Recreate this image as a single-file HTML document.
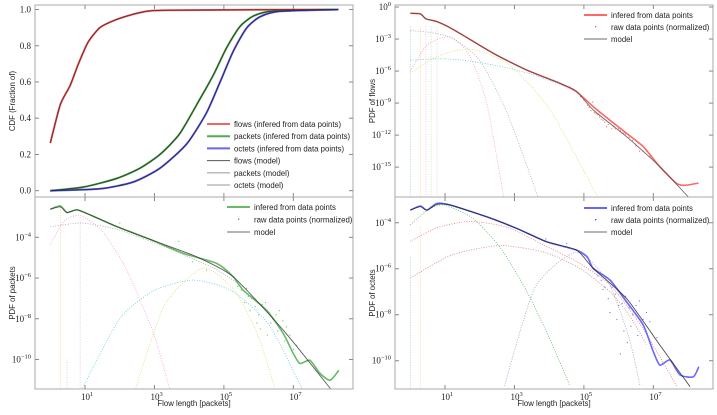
<!DOCTYPE html>
<html><head><meta charset="utf-8"><style>
body{margin:0;background:#fff;width:717px;height:415px;overflow:hidden}
svg{display:block}
text{font-family:"Liberation Serif",serif;font-size:9px;fill:#222}
.lab{font-family:"Liberation Sans",sans-serif;font-size:7.8px;fill:#222}
</style></head><body>
<svg id="fig" width="717" height="415" viewBox="0 0 717 415" xmlns="http://www.w3.org/2000/svg"></svg>
<script>
// ---- data (log10 x, value) ----
const cdfFlowsX=[0,0.29,0.57,0.81,1.09,1.43,1.91,2.58,3.35,8.3];
const cdfFlowsY=[0.263,0.477,0.58,0.70,0.82,0.90,0.945,0.983,0.996,1.0];
const cdfPacketsX=[0,0.96,1.91,2.58,3.16,3.73,4.31,4.7,5.08,5.46,5.85,6.42,8.3];
const cdfPacketsY=[0,0.02,0.067,0.124,0.2,0.315,0.506,0.64,0.79,0.906,0.964,0.992,1.0];
const cdfOctetsX=[0,1.43,2.39,3.16,3.93,4.5,4.89,5.27,5.65,6.04,6.62,8.3];
const cdfOctetsY=[0,0.01,0.048,0.124,0.258,0.43,0.60,0.77,0.897,0.96,0.99,1.0];
// PDF flows (log10 y)
const flowsInfX=[0,0.29,0.45,0.77,1.05,1.43,2.39,3.35,4.31,4.79,5.27,5.75,6.23,6.71,7.19,7.67,7.9,8.3];
const flowsInfY=[-0.59,-0.64,-1.1,-1.37,-1.78,-2.47,-4.34,-5.9,-7.15,-7.94,-9.34,-10.6,-11.84,-13.09,-14.97,-16.53,-16.7,-16.5];
const flowsModX=[0,0.29,0.45,0.77,1.05,1.43,2.39,3.35,4.31,4.79,5.27,6.23,7.19,8.0];
const flowsModY=[-0.59,-0.64,-1.1,-1.37,-1.78,-2.47,-4.34,-5.9,-7.15,-7.9,-9.65,-12.15,-14.97,-17.77];
const flowsCompPinkX=[0,0.5,1.15,1.7,2.2,2.7];const flowsCompPinkY=[-6.0,-3.5,-2.81,-4.5,-9.0,-18.0];
const flowsCompGrayX=[0,0.6,1.2,2.0,2.8,3.7];const flowsCompGrayY=[-2.2,-2.4,-2.9,-5.0,-10.0,-18.0];
const flowsCompYelX=[0,0.8,1.72,2.8,4.0,5.43];const flowsCompYelY=[-6.2,-4.6,-3.94,-5.3,-9.5,-18.0];
const flowsCompCyanX=[0,0.7,1.43,2.5,3.5,4.5];const flowsCompCyanY=[-5.0,-4.85,-4.94,-5.5,-6.3,-7.5];
const flowsRawX=[4.5,4.6,4.7,4.8,4.9,5.0,5.1,5.15,5.2,5.3,5.35,5.4,5.5,5.55,5.6,5.7,5.8,5.9,6.0,6.05,6.1,6.2,6.3,6.4,6.5,6.6,6.7,6.8,6.9,5.25,5.45,5.65,5.85,6.15];
const flowsRawY=[-7.4,-7.5,-7.7,-8.0,-8.4,-8.7,-9.2,-9.4,-9.7,-9.9,-10.0,-10.1,-10.5,-10.6,-10.8,-11.0,-11.4,-11.4,-11.4,-11.6,-11.8,-11.9,-12.2,-12.5,-13.0,-13.5,-13.5,-13.5,-14.0,-8.9,-10.3,-11.2,-11.2,-11.8];
// PDF packets
const pktInfX=[0,0.29,0.48,0.77,1.15,1.91,2.87,3.83,4.79,5.27,5.56,6.23,6.71,7.0,7.19,7.48,7.77,8.06,8.31];
const pktInfY=[-2.62,-2.46,-2.78,-2.65,-2.9,-3.47,-4.1,-4.79,-5.28,-5.94,-6.6,-7.58,-8.73,-9.71,-10.2,-10.04,-10.69,-11.02,-10.53];
const pktModX=[0,0.29,0.48,0.77,1.15,1.91,2.87,3.83,4.31,5.27,6.71,8.1];
const pktModY=[-2.62,-2.5,-2.78,-2.65,-2.9,-3.47,-4.1,-4.7,-5.03,-5.94,-8.56,-11.5];
const pktCompPinkX=[0,0.4,0.86,1.5,2.2,2.97,3.45];const pktCompPinkY=[-4.36,-3.2,-2.93,-3.7,-5.6,-8.7,-11.5];
const pktCompCyanX=[0.9,2.0,3.0,4.12,5.2,6.3,7.27];const pktCompCyanY=[-11.5,-8.0,-6.6,-6.1,-6.6,-8.3,-11.5];
const pktCompYelX=[2.44,3.3,4.41,5.3,6.0,6.48];const pktCompYelY=[-11.5,-7.3,-5.5,-6.6,-8.9,-11.5];
const pktCompGrayX=[0,0.9,1.9,2.9,3.9,4.8,5.7];const pktCompGrayY=[-3.48,-3.3,-3.6,-4.2,-4.9,-5.6,-6.6];
const pktRawX=[5.4,5.5,5.6,5.7,5.8,5.9,6.0,6.1,6.2,6.3,6.4,6.5,6.6,6.7,6.8,6.9,5.65,5.75,5.95,6.05,6.25,6.35,6.55,6.75,7.0,7.1,3.7,4.1,4.5,2.0];
const pktRawY=[-6.4,-6.6,-7.2,-6.9,-7.0,-7.4,-7.8,-7.3,-7.2,-7.7,-8.0,-7.8,-7.6,-8.1,-8.4,-8.8,-6.5,-7.6,-8.2,-8.5,-8.8,-8.2,-8.6,-9.1,-9.5,-9.3,-4.2,-5.2,-5.6,-3.3];
// PDF octets
const octInfX=[0,0.29,0.48,0.77,1.15,2.2,3.07,3.93,4.79,5.1,5.27,5.75,6.23,6.71,7.0,7.19,7.48,7.77,8.15,8.31];
const octInfY=[-3.45,-3.27,-3.45,-3.16,-3.23,-3.74,-4.25,-4.83,-5.19,-5.5,-5.99,-6.49,-7.44,-8.45,-9.61,-10.19,-9.97,-10.62,-10.7,-10.26];
const octModX=[0,0.29,0.48,0.77,1.15,2.2,3.07,3.93,4.79,5.27,6.23,7.19,8.06];
const octModY=[-3.45,-3.3,-3.45,-3.2,-3.23,-3.74,-4.25,-4.83,-5.19,-5.99,-7.3,-9.32,-11.13];
const octCompGreenX=[0,0.5,0.96,1.8,2.6,3.36,4.0,4.6];const octCompGreenY=[-4.09,-3.45,-3.23,-3.8,-5.1,-7.0,-9.0,-11.1];
const octCompRed1X=[0,0.8,1.73,2.8,3.83,4.8,5.75,6.7,7.67];const octCompRed1Y=[-4.81,-4.2,-3.94,-4.2,-4.96,-5.7,-6.7,-8.6,-11.1];
const octCompRed2X=[0,1.2,2.59,3.9,4.9,5.75,6.3,6.8];const octCompRed2Y=[-6.4,-5.4,-4.99,-5.3,-6.0,-7.0,-8.0,-9.3];
const octCompPurpX=[2.71,3.6,4.79,5.7,6.3,6.62];const octCompPurpY=[-11.1,-6.8,-5.28,-6.6,-9.0,-11.1];
const octRawX=[5.3,5.4,5.5,5.6,5.7,5.8,5.9,6.0,6.1,6.2,6.3,6.4,6.5,6.6,6.7,6.8,6.9,5.55,5.75,5.95,6.15,6.35,6.55,6.05,6.25,7.1,4.5,3.9];
const octRawY=[-6.0,-6.3,-6.5,-6.8,-7.3,-6.8,-7.1,-7.6,-7.5,-7.2,-7.7,-8.0,-7.6,-7.4,-8.2,-7.9,-8.3,-6.9,-7.9,-8.2,-8.7,-8.5,-8.9,-9.7,-9.2,-9.0,-4.9,-4.7];

const tickDecades=[1,3,5,7];
const cdfTicks=[0,0.2,0.4,0.6,0.8,1.0];
const flowsTicks=[0,-3,-6,-9,-12,-15];
const pktTicks=[-4,-6,-8,-10];
const octTicks=[-4,-6,-8,-10];

const NS="http://www.w3.org/2000/svg";
const fig=document.getElementById('fig');
function el(tag,attrs,parent){const e=document.createElementNS(NS,tag);for(const k in attrs)e.setAttribute(k,attrs[k]);(parent||fig).appendChild(e);return e;}
function makePanel(x0,x1,y0,y1,ymin,ymax,name){
  const g=el('g',{});
  
  
  const cid='clip-'+name;
  const cp=el('clipPath',{id:cid},g);el('rect',{x:x0,y:y0,width:x1-x0,height:y1-y0},cp);
  const sx=v=>x0+15.3+(v)*34.72;
  const sy=v=>y1-(v-ymin)/(ymax-ymin)*(y1-y0);
  const plot=el('g',{'clip-path':'url(#'+cid+')'},g);
  return {g,plot,sx,sy,x0,x1,y0,y1};
}
function smoothPath(P,xs,ys){
  const pts=xs.map((x,i)=>[P.sx(x),P.sy(ys[i])]);
  let d='M'+pts[0][0].toFixed(1)+','+pts[0][1].toFixed(1);
  for(let i=0;i<pts.length-1;i++){
    const p0=pts[Math.max(0,i-1)],p1=pts[i],p2=pts[i+1],p3=pts[Math.min(pts.length-1,i+2)];
    const c1=[p1[0]+(p2[0]-p0[0])/9,p1[1]+(p2[1]-p0[1])/9];
    const c2=[p2[0]-(p3[0]-p1[0])/9,p2[1]-(p3[1]-p1[1])/9];
    d+=' C'+c1.map(v=>v.toFixed(1))+' '+c2.map(v=>v.toFixed(1))+' '+p2.map(v=>v.toFixed(1));
  }
  return d;
}
function line(P,xs,ys,style,name){
  const p=el('path',Object.assign({d:smoothPath(P,xs,ys),fill:'none'},style),P.plot);
  
  
}
function dots(P,xs,ys,color,name){
  const g=el('g',{},P.plot);
  
  
  xs.forEach((x,i)=>el('rect',{x:P.sx(x)-0.5,y:P.sy(ys[i])-0.5,width:1.1,height:1.1,fill:color,'fill-opacity':0.7},g));
}
function frame(P,yticks,ylabFn,xlabels){
  el('rect',{x:P.x0,y:P.y0,width:P.x1-P.x0,height:P.y1-P.y0,fill:'none',stroke:'#aaa','stroke-width':1},P.g);
  yticks.forEach(t=>{const y=P.sy(t);
    el('line',{x1:P.x0,x2:P.x0+4,y1:y,y2:y,stroke:'#888'},P.g);
    el('line',{x1:P.x1-4,x2:P.x1,y1:y,y2:y,stroke:'#888'},P.g);
    const tx=el('text',{x:P.x0-4,y:y+3,'text-anchor':'end'},P.g);
    
    
    ylabFn(tx,t);
  });
  tickDecades.forEach(d=>{const x=P.sx(d);
    el('line',{x1:x,x2:x,y1:P.y1,y2:P.y1-4,stroke:'#888'},P.g);
    el('line',{x1:x,x2:x,y1:P.y0,y2:P.y0+4,stroke:'#888'},P.g);
    if(xlabels){const tx=el('text',{x:x-4,y:P.y1+11},P.g);
      
      
      tx.textContent='10';const s=el('tspan',{dy:-4,'font-size':'6.5'},tx);s.textContent=d;}
  });
}
function powLab(tx,t){tx.textContent='10';const s=el('tspan',{dy:-4,'font-size':'6.5'},tx);s.textContent=(t<0?'\u2212'+(-t):t);}
function ylabel(x,y,txt,name){const t=el('text',{x:x,y:y,class:'lab','text-anchor':'middle',transform:'rotate(-90 '+x+' '+y+')'});t.textContent=txt;
  }
function xlabel(x,y,txt){const t=el('text',{x:x,y:y,class:'lab','text-anchor':'middle'});t.textContent=txt;
  }
function legend(x,y,items,gap){
  const g=el('g',{});
  
  
  items.forEach((it,i)=>{const yy=y+i*gap;
    const e=el('g',{},g);
    
    
    if(it.dot) el('rect',{x:x+11,y:yy-1,width:1.3,height:1.3,fill:it.c},e);
    else el('line',{x1:x,x2:x+23,y1:yy,y2:yy,stroke:it.c,'stroke-width':it.w,'stroke-opacity':it.o||1},e);
    const t=el('text',{x:x+27,y:yy+3,class:'lab'},e);t.textContent=it.t;});
}
function dstyle(c){return {stroke:c,'stroke-width':0.8,'stroke-dasharray':'1,1.5'};}

// Panel 1: CDF
const P1=makePanel(35,353,5,197,-0.035,1.025,'cdf-panel');
line(P1,cdfFlowsX,cdfFlowsY,{stroke:'#e66','stroke-width':2},'flows-inferred');
line(P1,cdfPacketsX,cdfPacketsY,{stroke:'#5a5','stroke-width':2},'packets-inferred');
line(P1,cdfOctetsX,cdfOctetsY,{stroke:'#66e','stroke-width':2},'octets-inferred');
line(P1,cdfFlowsX,cdfFlowsY,{stroke:'#7a2a2a','stroke-width':1},'flows-model');
line(P1,cdfPacketsX,cdfPacketsY,{stroke:'#2a4a2a','stroke-width':1},'packets-model');
line(P1,cdfOctetsX,cdfOctetsY,{stroke:'#2a2a6a','stroke-width':1},'octets-model');
frame(P1,cdfTicks,(tx,t)=>tx.textContent=t.toFixed(1),false);
ylabel(15,101,'CDF (Fraction of)','y-axis-title-cdf');
legend(207,124,[{c:'#e66',w:2,t:'flows (infered from data points)'},{c:'#5a5',w:2,t:'packets (infered from data points)'},{c:'#66e',w:2,t:'octets (infered from data points)'},{c:'#555',w:1,t:'flows (model)'},{c:'#bbb',w:1.5,t:'packets (model)'},{c:'#bbb',w:1.5,t:'octets (model)'}],12.2);

// Panel 2: PDF flows
const P2=makePanel(395,713,5,197,-17.8,0.19,'pdf-flows-panel');
[0,0.29,0.45,0.6,0.77].forEach((v,i)=>{const c=['#9cd','#fc9','#fbe','#bdb','#dcd'][i];
  el('line',Object.assign({x1:P2.sx(v),x2:P2.sx(v),y1:P2.sy(-1.8),y2:P2.y1},dstyle(c)),P2.plot);});
line(P2,flowsCompPinkX,flowsCompPinkY,dstyle('#f9c'),'flows-component-1');
line(P2,flowsCompGrayX,flowsCompGrayY,dstyle('#aaa'),'flows-component-2');
line(P2,flowsCompYelX,flowsCompYelY,dstyle('#dd6'),'flows-component-3');
line(P2,flowsCompCyanX,flowsCompCyanY,dstyle('#6cd'),'flows-component-4');
dots(P2,flowsRawX,flowsRawY,'#f33','flows-raw-points');
line(P2,flowsInfX,flowsInfY,{stroke:'#f66','stroke-width':1.6},'flows-pdf-inferred');
line(P2,flowsModX,flowsModY,{stroke:'#444','stroke-width':0.9,'stroke-opacity':0.8},'flows-pdf-model');
frame(P2,flowsTicks,powLab,false);
ylabel(375,101,'PDF of flows','y-axis-title-flows');
legend(584,15,[{c:'#f66',w:2,t:'infered from data points'},{c:'#f44',dot:1,t:'raw data points (normalized)'},{c:'#888',w:1.2,t:'model'}],12);

// Panel 3: PDF packets
const P3=makePanel(35,353,197,389,-11.45,-2.02,'pdf-packets-panel');
[[0.29,'#fc9',-2.4],[0.48,'#bdb',-10.0],[0.86,'#ccc',-3.0]].forEach(a=>{
  el('line',Object.assign({x1:P3.sx(a[0]),x2:P3.sx(a[0]),y1:P3.sy(a[2]),y2:P3.y1},dstyle(a[1])),P3.plot);});
line(P3,pktCompPinkX,pktCompPinkY,dstyle('#f9c'),'packets-component-1');
line(P3,pktCompCyanX,pktCompCyanY,dstyle('#6cd'),'packets-component-2');
line(P3,pktCompYelX,pktCompYelY,dstyle('#dd6'),'packets-component-3');
line(P3,pktCompGrayX,pktCompGrayY,dstyle('#aaa'),'packets-component-4');
dots(P3,pktRawX,pktRawY,'#3a3','packets-raw-points');
line(P3,pktInfX,pktInfY,{stroke:'#6b6','stroke-width':1.6},'packets-pdf-inferred');
line(P3,pktModX,pktModY,{stroke:'#333','stroke-width':0.9,'stroke-opacity':0.8},'packets-pdf-model');
frame(P3,pktTicks,powLab,true);
ylabel(15,293,'PDF of packets','y-axis-title-packets');
xlabel(194,406,'Flow length [packets]');
legend(227,207,[{c:'#6b6',w:2,t:'infered from data points'},{c:'#3a3',dot:1,t:'raw data points (normalized)'},{c:'#888',w:1.2,t:'model'}],12.5);

// Panel 4: PDF octets
const P4=makePanel(395,713,197,389,-11.23,-2.88,'pdf-octets-panel');
[[0,'#9cd',-5.5],[0.29,'#fc9',-4.2]].forEach(a=>{
  el('line',Object.assign({x1:P4.sx(a[0]),x2:P4.sx(a[0]),y1:P4.sy(a[2]),y2:P4.y1},dstyle(a[1])),P4.plot);});
line(P4,octCompGreenX,octCompGreenY,dstyle('#5b5'),'octets-component-1');
line(P4,octCompRed1X,octCompRed1Y,dstyle('#e77'),'octets-component-2');
line(P4,octCompRed2X,octCompRed2Y,dstyle('#c88'),'octets-component-3');
line(P4,octCompPurpX,octCompPurpY,dstyle('#a9c'),'octets-component-4');
dots(P4,octRawX,octRawY,'#33f','octets-raw-points');
line(P4,octInfX,octInfY,{stroke:'#66f','stroke-width':1.6},'octets-pdf-inferred');
line(P4,octModX,octModY,{stroke:'#222','stroke-width':0.9,'stroke-opacity':0.8},'octets-pdf-model');
frame(P4,octTicks,powLab,true);
ylabel(375,293,'PDF of octets','y-axis-title-octets');
xlabel(554,406,'Flow length [packets]');
legend(584,208,[{c:'#66f',w:2,t:'infered from data points'},{c:'#33f',dot:1,t:'raw data points (normalized)'},{c:'#888',w:1.2,t:'model'}],12);
</script>
</body></html>
